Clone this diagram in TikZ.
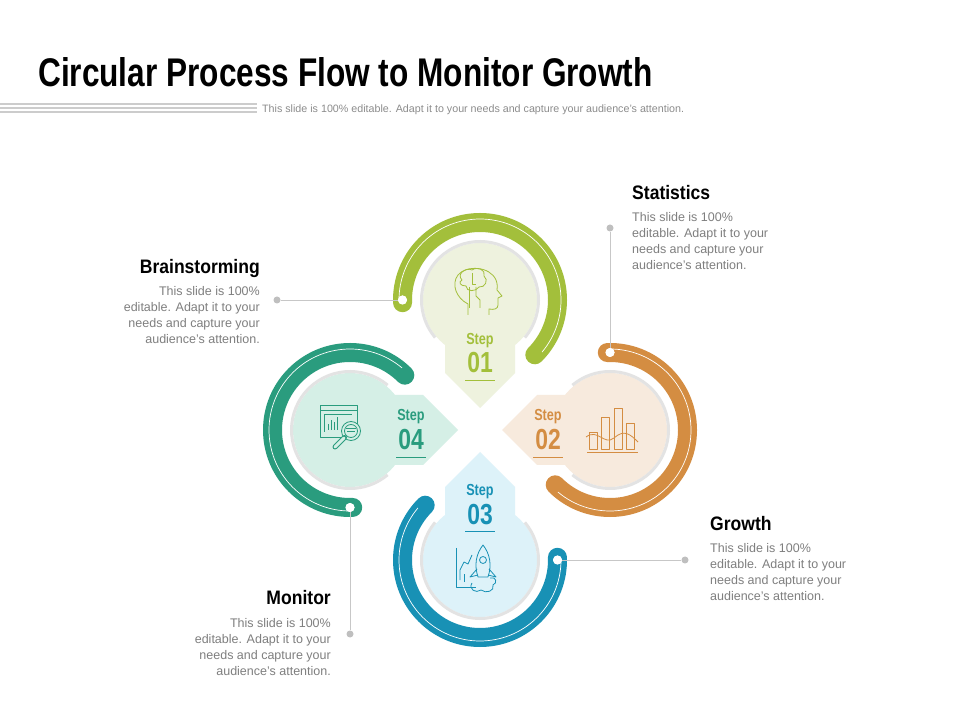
\documentclass[tikz,border=0pt]{standalone}
\usepackage{fontspec}
\setmainfont{Liberation Sans}
\newfontfamily\condfont[FakeStretch=0.79]{Liberation Sans}
\newfontfamily\headfont[FakeStretch=0.9]{Liberation Sans}
\definecolor{stepgreen}{HTML}{A3BF3B}
\definecolor{stepgreenbg}{HTML}{EEF2DE}
\definecolor{steporange}{HTML}{D48D42}
\definecolor{steporangebg}{HTML}{F7EADD}
\definecolor{stepblue}{HTML}{1891B5}
\definecolor{stepbluebg}{HTML}{DDF2F9}
\definecolor{stepteal}{HTML}{2A9C7E}
\definecolor{steptealbg}{HTML}{D5EFE6}
\definecolor{bodygray}{HTML}{7F7F7F}

\begin{document}
\begin{tikzpicture}[x=1pt, y=1pt,
	ring/.style={line width=19pt, line cap=round},
	ringline/.style={white, line width=0.7pt},
	rimshade/.style={black!11, line width=3pt},
	linkline/.style={black!22, line width=0.8pt},
	linkdot/.style={circle, fill=black!25, inner sep=0pt, minimum size=7pt},
	enddot/.style={circle, fill=white, inner sep=0pt, minimum size=9pt},
	icon/.style={line width=0.8pt, line join=round},
	steplabel/.style={anchor=base, inner sep=0pt, font=\condfont\bfseries\fontsize{16}{16}\selectfont},
	stepnum/.style={anchor=base, inner sep=0pt, font=\condfont\bfseries\fontsize{29}{29}\selectfont},
	heading/.style={inner sep=0pt, font=\headfont\bfseries\fontsize{19.5}{20}\selectfont},
	body/.style={inner sep=0pt, text=bodygray, font=\fontsize{12.5}{16}\selectfont}]
	\useasboundingbox (0,0) rectangle (960,720);
	\fill[white] (0,0) rectangle (960,720);
	
	\node[anchor=base west, inner sep=0pt, font=\condfont\bfseries\fontsize{40}{40}\selectfont] (title) at (38,633) {Circular Process Flow to Monitor Growth};
	\draw[black!20, line width=1.3pt] (0,616) -- (257,616);
	\draw[black!20, line width=1.3pt] (0,612) -- (257,612);
	\draw[black!20, line width=1.3pt] (0,608) -- (257,608);
	\node[anchor=base west, inner sep=0pt, text=black!45, font=\fontsize{10.7}{10.7}\selectfont] (subtitle) at (262,607.5) {This slide is 100\% editable. Adapt it to your needs and capture your audience's attention.};
	
	% step 01
	\begin{scope}[shift={(480,420)}]
		\fill[stepgreenbg] (0,0) circle (57);
		\draw[rimshade] (-40:58.5) arc[start angle=-40, end angle=220, radius=58.5];
		\fill[stepgreenbg] (-35,0) -- (-35,-73) -- (0,-108) -- (35,-73) -- (35,0) -- cycle;
		\draw[ring, stepgreen] (-45:77.5) arc[start angle=-45, end angle=182, radius=77.5];
		\draw[ringline] (-40:81) arc[start angle=-40, end angle=180, radius=81];
		\node[enddot] (end1) at (180:77.5) {};
	\end{scope}
	\node[steplabel, text=stepgreen] (steptxt1) at (480,375) {Step};
	\node[stepnum, text=stepgreen] (stepnum1) at (480,347) {01};
	\draw[stepgreen, line width=0.8pt] (465,340) -- (495,340);
	\draw[icon, stepgreen] (468,405) -- (468,416) .. controls (456,422) and (451,436) .. (458,445) .. controls (466,455) and (490,454) .. (496,440) .. controls (498,435) and (497,432) .. (497,430) -- (502,424) -- (498,422) -- (498,415) .. controls (498,411) and (494,410) .. (489,411) -- (489,405);
	\draw[icon, stepgreen] (462,440) .. controls (456,446) and (466,453) .. (472,450) .. controls (478,454) and (486,450) .. (484,444) .. controls (489,440) and (485,432) .. (479,433) .. controls (476,428) and (466,428) .. (466,434) .. controls (460,434) and (458,438) .. (462,440);
	\draw[icon, stepgreen] (472,447) -- (472,436) -- (476,436);
	\draw[icon, stepgreen] (469,433) -- (469,412);
	\draw[icon, stepgreen] (476,433) -- (476,424) -- (480,420) -- (480,412);
	
	% step 02
	\begin{scope}[shift={(610,290)}, rotate=-90]
		\fill[steporangebg] (0,0) circle (57);
		\draw[rimshade] (-40:58.5) arc[start angle=-40, end angle=220, radius=58.5];
		\fill[steporangebg] (-35,0) -- (-35,-73) -- (0,-108) -- (35,-73) -- (35,0) -- cycle;
		\draw[ring, steporange] (-45:77.5) arc[start angle=-45, end angle=182, radius=77.5];
		\draw[ringline] (-40:81) arc[start angle=-40, end angle=180, radius=81];
		\node[enddot] (end2) at (180:77.5) {};
	\end{scope}
	\node[steplabel, text=steporange] (steptxt2) at (548,299) {Step};
	\node[stepnum, text=steporange] (stepnum2) at (548,270) {02};
	\draw[steporange, line width=0.8pt] (533,263) -- (563,263);
	\draw[icon, steporange] (587,268) -- (638,268);
	\draw[icon, steporange] (589,271) rectangle (597,288);
	\draw[icon, steporange] (601,271) rectangle (609,303);
	\draw[icon, steporange] (614,271) rectangle (622,312);
	\draw[icon, steporange] (626,271) rectangle (634,297);
	\draw[icon, steporange] (586,283) .. controls (598,292) and (604,274) .. (614,282) .. controls (624,291) and (630,286) .. (638,278);
	
	% step 03
	\begin{scope}[shift={(480,160)}, rotate=-180]
		\fill[stepbluebg] (0,0) circle (57);
		\draw[rimshade] (-40:58.5) arc[start angle=-40, end angle=220, radius=58.5];
		\fill[stepbluebg] (-35,0) -- (-35,-73) -- (0,-108) -- (35,-73) -- (35,0) -- cycle;
		\draw[ring, stepblue] (-45:77.5) arc[start angle=-45, end angle=182, radius=77.5];
		\draw[ringline] (-40:81) arc[start angle=-40, end angle=180, radius=81];
		\node[enddot] (end3) at (180:77.5) {};
	\end{scope}
	\node[steplabel, text=stepblue] (steptxt3) at (480,224) {Step};
	\node[stepnum, text=stepblue] (stepnum3) at (480,195) {03};
	\draw[stepblue, line width=0.8pt] (465,189) -- (495,189);
	\draw[icon, stepblue] (456,172) -- (456,133) -- (476,133);
	\draw[icon, stepblue] (478,143) .. controls (474,155) and (476,166) .. (483,175) .. controls (490,166) and (492,155) .. (488,143) -- cycle;
	\draw[icon, stepblue] (483,160) circle (3.5);
	\draw[icon, stepblue] (477,151) -- (470,143) -- (478,145);
	\draw[icon, stepblue] (489,151) -- (496,143) -- (488,145);
	\draw[icon, stepblue] (472,137) .. controls (468,131) and (476,126) .. (481,130) .. controls (486,126) and (495,129) .. (493,135) .. controls (498,137) and (496,144) .. (490,142);
	\draw[icon, stepblue] (460,140) -- (460,150) -- (464,158) -- (468,156) -- (472,165);
	\draw[icon, stepblue] (464,138) -- (464,146);
	
	% step 04
	\begin{scope}[shift={(350,290)}, rotate=-270]
		\fill[steptealbg] (0,0) circle (57);
		\draw[rimshade] (-40:58.5) arc[start angle=-40, end angle=220, radius=58.5];
		\fill[steptealbg] (-35,0) -- (-35,-73) -- (0,-108) -- (35,-73) -- (35,0) -- cycle;
		\draw[ring, stepteal] (-45:77.5) arc[start angle=-45, end angle=182, radius=77.5];
		\draw[ringline] (-40:81) arc[start angle=-40, end angle=180, radius=81];
		\node[enddot] (end4) at (180:77.5) {};
	\end{scope}
	\node[steplabel, text=stepteal] (steptxt4) at (411,299) {Step};
	\node[stepnum, text=stepteal] (stepnum4) at (411,270) {04};
	\draw[stepteal, line width=0.8pt] (396,263) -- (426,263);
	\draw[icon, stepteal] (320,283) rectangle (357,315);
	\draw[icon, stepteal] (320,310) -- (357,310);
	\draw[icon, stepteal] (324,288) -- (324,306) -- (352,306);
	\draw[icon, stepteal] (328,290) -- (328,296) (331,290) -- (331,300) (334,290) -- (334,298) (337,290) -- (337,303);
	\draw[icon, stepteal, fill=steptealbg] (351,289) circle (9.5);
	\draw[icon, stepteal] (351,289) circle (6.5);
	\draw[icon, stepteal] (347,289) -- (355,289) (346,292) -- (356,292);
	\draw[stepteal, line width=5pt, line cap=round] (344.5,282.5) -- (335,273);
	\draw[steptealbg, line width=3pt, line cap=round] (344,282) -- (335,273);
	
	% texts and links
	\node[heading, anchor=north west] (stathead) at (632,535) {Statistics};
	\node[body, anchor=north west, align=left] (statbody) at (632,508) {This slide is 100\%\\editable. Adapt it to your\\needs and capture your\\audience's attention.};
	\node[linkdot] (statdot) at (610,492) {};
	\draw[linkline] (statdot) -- (end2);
	
	\node[heading, anchor=north east] (brainhead) at (260,461) {Brainstorming};
	\node[body, anchor=north east, align=right] (brainbody) at (260,434) {This slide is 100\%\\editable. Adapt it to your\\needs and capture your\\audience's attention.};
	\node[linkdot] (braindot) at (277,420) {};
	\draw[linkline] (braindot) -- (end1);
	
	\node[heading, anchor=north west] (growhead) at (710,204) {Growth};
	\node[body, anchor=north west, align=left] (growbody) at (710,177) {This slide is 100\%\\editable. Adapt it to your\\needs and capture your\\audience's attention.};
	\node[linkdot] (growdot) at (685,160) {};
	\draw[linkline] (growdot) -- (end3);
	
	\node[heading, anchor=north east] (monhead) at (331,130) {Monitor};
	\node[body, anchor=north east, align=right] (monbody) at (331,102) {This slide is 100\%\\editable. Adapt it to your\\needs and capture your\\audience's attention.};
	\node[linkdot] (mondot) at (350,86) {};
	\draw[linkline] (mondot) -- (end4);
	
	\node[enddot] at (end1) {};
	\node[enddot] at (end2) {};
	\node[enddot] at (end3) {};
	\node[enddot] at (end4) {};
\end{tikzpicture}
\end{document}
